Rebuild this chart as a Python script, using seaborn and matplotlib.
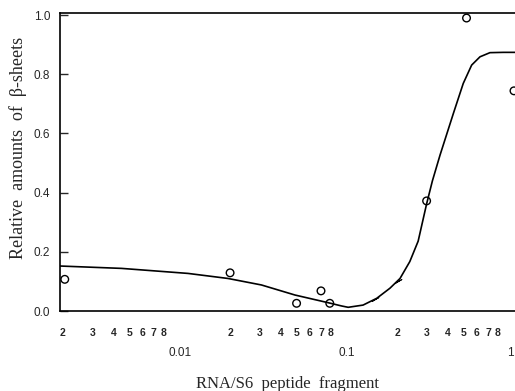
import numpy as np
import pandas as pd
import seaborn as sns
import matplotlib
matplotlib.use("Agg")
import matplotlib.pyplot as plt
from matplotlib import ticker

# measured points (open circles)
ratio = [0.00205, 0.02, 0.05, 0.07, 0.079, 0.3, 0.52, 1.0]
beta = [0.107, 0.129, 0.026, 0.068, 0.026, 0.372, 0.99, 0.744]

# faint marks sitting on the curve
faint_ratio = [0.147, 0.202]
faint_beta = [0.041, 0.101]

# fitted curve
fit_ratio = [0.00192, 0.00448, 0.0112, 0.0194, 0.0308, 0.0489, 0.0773, 0.093, 0.1018,
             0.125, 0.151, 0.181, 0.208, 0.238, 0.267, 0.300, 0.325, 0.361, 0.434,
             0.497, 0.558, 0.626, 0.718, 0.863, 1.02]
fit_beta = [0.152, 0.144, 0.127, 0.110, 0.088, 0.054, 0.028, 0.017, 0.0125,
            0.020, 0.043, 0.077, 0.110, 0.167, 0.236, 0.362, 0.440, 0.527, 0.668,
            0.769, 0.831, 0.859, 0.873, 0.874, 0.874]

sns.set_style("white")
plt.rcParams['font.family'] = ['Liberation Sans', 'DejaVu Sans']

fig = plt.figure(figsize=(5.15, 3.91), dpi=100)
ax = fig.add_axes([60 / 515, 80 / 391, 455 / 515, 298 / 391])

fit = pd.DataFrame({"ratio": fit_ratio, "beta": fit_beta})
sns.lineplot(data=fit, x="ratio", y="beta", sort=False, estimator=None,
             color="black", linewidth=1.2, ax=ax)
sns.scatterplot(x=ratio, y=beta, marker="o", s=30, facecolor="none",
                edgecolor="black", linewidth=1.0, ax=ax, clip_on=False)
ax.plot(faint_ratio, faint_beta, linestyle="none", marker=(2, 2, -60),
        markersize=6, color="black", markeredgewidth=0.7)

ax.set_xscale("log")
ax.set_xlim(0.00192, 1.014)
ax.set_ylim(0, 1.007)

ax.xaxis.set_major_locator(ticker.FixedLocator([0.01, 0.1, 1]))
ax.xaxis.set_major_formatter(ticker.FixedFormatter(["0.01", "0.1", "1"]))
ax.xaxis.set_minor_locator(ticker.LogLocator(base=10, subs=np.arange(2, 10), numticks=20))


def minor_lab(v, pos):
    d = int(round(v / 10 ** np.floor(np.log10(v) + 1e-9)))
    return str(d) if 2 <= d <= 8 else ""


ax.xaxis.set_minor_formatter(ticker.FuncFormatter(minor_lab))
ax.set_yticks([0.0, 0.2, 0.4, 0.6, 0.8, 1.0])
ax.set_yticklabels(["0.0", "0.2", "0.4", "0.6", "0.8", "1.0"])

ax.tick_params(axis="x", which="major", direction="in", length=7, width=1,
               pad=26, labelsize=8.5)
ax.tick_params(axis="x", which="minor", direction="in", length=4, width=1,
               pad=12, labelsize=7.5)
for lab in ax.xaxis.get_minorticklabels():
    lab.set_fontweight("bold")
ax.tick_params(axis="y", direction="in", length=6, width=1, pad=7, labelsize=8.5, left=True)

fig.canvas.draw()
ax.xaxis.get_majorticklabels()[-1].set_horizontalalignment("right")

for side in ["left", "top", "bottom"]:
    ax.spines[side].set_color("black")
    ax.spines[side].set_linewidth(1.2)
ax.spines["right"].set_visible(False)

ax.set_xlabel("RNA/S6  peptide  fragment", family="Liberation Serif", fontsize=12, labelpad=12)
ax.set_ylabel("Relative  amounts  of  β-sheets", family="Liberation Serif", fontsize=13)
ax.yaxis.set_label_coords(-0.072, 0.547)

fig.savefig("out.png", dpi=100)
